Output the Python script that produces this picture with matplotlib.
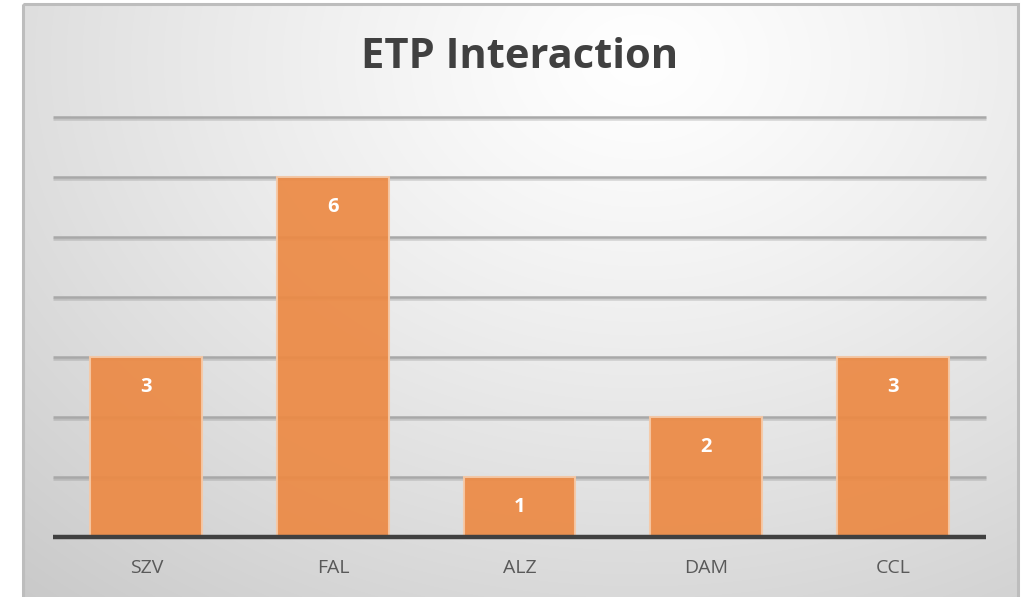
import numpy as np
import matplotlib
matplotlib.use("Agg")
import matplotlib.pyplot as plt
import matplotlib.patheffects as pe
from matplotlib.patches import Rectangle

categories = ["SZV", "FAL", "ALZ", "DAM", "CCL"]
values = [3, 6, 1, 2, 3]
y_ticks = [1, 2, 3, 4, 5, 6, 7]
title = "ETP Interaction"

W, H, DPI = 1023, 597, 100
fig = plt.figure(figsize=(W / DPI, H / DPI), dpi=DPI)
fig.patch.set_facecolor("white")

# Background panel with a soft radial gradient
bg = fig.add_axes([0, 0, 1, 1], zorder=0)
bg.set_xlim(0, W)
bg.set_ylim(H, 0)
bg.axis("off")
x0, x1, y0, y1 = 23, 1018, 4, H + 5
yy, xx = np.mgrid[y0:y1, x0:x1]
r = np.sqrt(((xx - 640) / 780.0) ** 2 + ((yy - 60) / 600.0) ** 2)
shade = 1.0 - 0.17 * np.clip(r, 0, 1.2) ** 1.2
img = np.dstack([shade, shade, shade])
bg.imshow(img, extent=(x0, x1, y1, y0), aspect="auto", interpolation="bilinear")
bg.add_patch(Rectangle((x0, y0), x1 - x0, y1 - y0, fill=False,
                       edgecolor="#bdbdbd", linewidth=2.2))

# Chart area
ax = fig.add_axes([53 / W, 60 / H, 933 / W, 420 / H], zorder=1)
ax.patch.set_alpha(0)
ax.set_xlim(-0.5, len(categories) - 0.5)
ax.set_ylim(0, 7)
for s in ax.spines.values():
    s.set_visible(False)

shadow = [pe.SimpleLineShadow(offset=(0, -1.2), shadow_color="#808080", alpha=0.3),
          pe.Normal()]
for t in y_ticks:
    ax.axhline(t, color="#a8a8a8", linewidth=1.8, zorder=1, path_effects=shadow,
               solid_capstyle="butt", clip_on=False)

x = np.arange(len(categories))
bars = ax.bar(x, values, width=0.6, color="#ec8a45", alpha=0.93,
              edgecolor="#f6c9a6", linewidth=1.5, zorder=2)

for xi, v in zip(x, values):
    ax.text(xi, v - 0.5, str(v), ha="center", va="center", color="white",
            fontsize=14.5, fontweight="bold", family="Open Sans", zorder=4)

ax.axhline(0, color="#404040", linewidth=3.2, zorder=3, solid_capstyle="butt",
           clip_on=False)

ax.set_xticks(x)
ax.set_xticklabels(categories, fontsize=14, color="#595959", family="Open Sans")
ax.tick_params(axis="x", length=0, pad=16)
ax.set_yticks([])

fig.text(520 / W, 1 - 57 / H, title, ha="center", va="center", fontsize=30,
         fontweight="bold", color="#404040", family="Open Sans")

fig.savefig("out.png", dpi=DPI)
